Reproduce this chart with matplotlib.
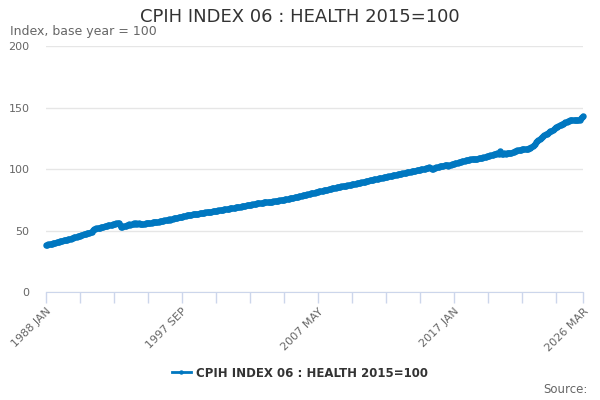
import numpy as np
import matplotlib
matplotlib.use('Agg')
import matplotlib.pyplot as plt

# monthly index values, 1988 JAN .. 2026 MAR (one row per year)
health_index = [
    38.6, 38.8, 39.0, 39.2, 39.4, 39.7, 39.9, 40.1, 40.4, 40.6, 40.9, 41.1,  # 1988
    41.4, 41.6, 41.9, 42.2, 42.4, 42.7, 43.0, 43.2, 43.5, 43.8, 44.0, 44.3,  # 1989
    44.7, 45.0, 45.3, 45.6, 45.9, 46.2, 46.5, 46.8, 47.1, 47.4, 47.7, 48.0,  # 1990
    48.4, 48.6, 48.9, 49.3, 50.8, 51.5, 51.8, 52.0, 52.2, 52.4, 52.6, 52.8,  # 1991
    53.2, 53.5, 53.7, 54.0, 54.3, 54.5, 54.8, 55.0, 55.2, 55.5, 55.7, 55.9,  # 1992
    56.2, 56.3, 56.4, 55.1, 53.2, 53.4, 53.9, 54.3, 53.8, 55.2, 54.6, 55.6,  # 1993
    54.9, 55.8, 55.3, 56.1, 55.5, 56.3, 55.8, 56.2, 55.9, 55.4, 55.7, 56.0,  # 1994
    55.8, 56.2, 56.4, 56.1, 56.6, 56.8, 56.5, 56.9, 57.1, 57.0, 57.3, 57.4,  # 1995
    57.5, 57.7, 57.9, 58.3, 58.1, 58.5, 58.8, 58.6, 59.0, 59.3, 59.1, 59.5,  # 1996
    59.9, 60.4, 60.1, 60.8, 60.6, 61.0, 61.4, 61.2, 61.7, 61.9, 62.1, 62.4,  # 1997
    62.7, 62.8, 63.0, 63.1, 63.2, 63.4, 63.5, 63.6, 63.8, 63.9, 64.0, 64.2,  # 1998
    64.5, 64.6, 64.8, 64.9, 65.0, 65.2, 65.3, 65.5, 65.6, 65.7, 65.9, 66.0,  # 1999
    66.2, 66.3, 66.5, 66.6, 66.8, 66.9, 67.1, 67.2, 67.4, 67.5, 67.7, 67.9,  # 2000
    68.1, 68.3, 68.4, 68.6, 68.8, 68.9, 69.1, 69.3, 69.5, 69.6, 69.8, 70.0,  # 2001
    70.2, 70.4, 70.6, 70.7, 70.9, 71.1, 71.3, 71.4, 71.6, 71.8, 71.9, 72.1,  # 2002
    72.3, 72.4, 72.6, 72.7, 72.8, 73.0, 73.1, 73.2, 73.4, 73.5, 73.6, 73.8,  # 2003
    73.7, 73.9, 74.0, 74.2, 74.3, 74.5, 74.6, 74.8, 74.9, 75.1, 75.2, 75.4,  # 2004
    75.6, 75.8, 76.0, 76.2, 76.4, 76.6, 76.8, 77.0, 77.2, 77.4, 77.6, 77.8,  # 2005
    78.1, 78.3, 78.6, 78.8, 79.1, 79.3, 79.5, 79.8, 80.0, 80.2, 80.5, 80.7,  # 2006
    81.0, 81.2, 81.5, 81.7, 81.9, 82.1, 82.3, 82.5, 82.7, 82.9, 83.1, 83.3,  # 2007
    83.6, 83.8, 84.0, 84.3, 84.5, 84.7, 84.9, 85.1, 85.3, 85.5, 85.7, 85.9,  # 2008
    86.1, 86.3, 86.5, 86.7, 86.9, 87.1, 87.2, 87.4, 87.6, 87.8, 88.0, 88.2,  # 2009
    88.4, 88.6, 88.8, 89.0, 89.2, 89.4, 89.6, 89.9, 90.1, 90.3, 90.5, 90.7,  # 2010
    91.0, 91.2, 91.4, 91.6, 91.8, 92.0, 92.3, 92.5, 92.7, 92.9, 93.1, 93.3,  # 2011
    93.5, 93.7, 93.9, 94.1, 94.3, 94.5, 94.7, 94.9, 95.1, 95.3, 95.5, 95.7,  # 2012
    95.9, 96.1, 96.3, 96.5, 96.7, 97.0, 97.2, 97.4, 97.6, 97.8, 98.0, 98.2,  # 2013
    98.4, 98.6, 98.8, 99.0, 99.2, 99.4, 99.6, 99.8, 100.0, 100.2, 100.5, 100.7,  # 2014
    100.9, 101.1, 101.4, 101.7, 101.2, 100.4, 100.3, 100.8, 101.3, 101.6, 101.9, 102.1,  # 2015
    102.4, 102.6, 102.8, 103.0, 103.3, 103.6, 103.2, 103.0, 103.5, 103.8, 104.1, 104.3,  # 2016
    104.6, 104.9, 105.2, 105.5, 105.8, 106.1, 106.3, 106.6, 106.9, 107.1, 107.4, 107.6,  # 2017
    107.8, 108.0, 108.1, 108.3, 108.4, 108.5, 108.6, 108.7, 108.8, 109.0, 109.1, 109.3,  # 2018
    109.6, 109.8, 110.1, 110.4, 110.6, 110.9, 111.2, 111.4, 111.7, 112.0, 112.3, 112.5,  # 2019
    112.8, 113.1, 112.4, 114.6, 113.0, 112.7, 112.9, 113.1, 112.8, 113.0, 113.2, 113.3,  # 2020
    113.2, 113.6, 114.0, 114.4, 114.8, 115.2, 115.5, 115.9, 116.1, 116.0, 116.2, 116.4,  # 2021
    116.5, 116.6, 116.8, 116.9, 117.1, 117.3, 117.9, 118.8, 119.8, 121.0, 122.2, 123.2,  # 2022
    124.0, 124.8, 125.6, 126.3, 127.0, 127.7, 128.4, 129.0, 129.7, 130.4, 131.0, 131.6,  # 2023
    132.4, 133.0, 133.6, 134.2, 134.8, 135.3, 135.8, 136.3, 136.8, 137.3, 137.8, 138.3,  # 2024
    138.7, 139.1, 139.5, 139.9, 140.2, 140.4, 140.1, 140.3, 139.9, 140.2, 140.0, 140.4,  # 2025
    141.8, 142.6, 143.8,  # 2026
]

tick_pos = [0, 29, 58, 87, 116, 145, 174, 203, 232, 261, 290, 319, 348, 377, 406, 435, 458]
label_pos = [0, 116, 232, 348, 458]
label_txt = ['1988 JAN', '1997 SEP', '2007 MAY', '2017 JAN', '2026 MAR']
y_ticks = [0, 50, 100, 150, 200]

blue = '#0077c0'
grey = '#666666'
axis_col = '#ccd6eb'

fig = plt.figure(figsize=(6, 4), dpi=100)
ax = fig.add_axes([0.0767, 0.269, 0.895, 0.615])

months = np.arange(len(health_index))
ax.plot(months, health_index, color=blue, lw=2, marker='o', ms=3.6,
        mec=blue, mfc=blue, zorder=3, clip_on=False)

ax.set_xlim(0, 458)
ax.set_ylim(0, 200)
ax.set_yticks(y_ticks)
ax.yaxis.grid(True, color='#e6e6e6', lw=1)
ax.set_axisbelow(True)
ax.tick_params(axis='y', length=0, pad=12, labelsize=8, labelcolor=grey)

ax.set_xticks(tick_pos)
ax.set_xticklabels([label_txt[label_pos.index(p)] if p in label_pos else '' for p in tick_pos])
ax.tick_params(axis='x', length=8, width=1, color=axis_col, labelsize=8, labelcolor=grey, pad=2)
plt.setp(ax.get_xticklabels(), rotation=45, ha='right', rotation_mode='anchor')

for s in ['top', 'right', 'left']:
    ax.spines[s].set_visible(False)
ax.spines['bottom'].set_color(axis_col)

fig.text(0.5, 0.958, 'CPIH INDEX 06 : HEALTH 2015=100', ha='center', va='center',
         fontsize=13, color='#333333')
fig.text(0.017, 0.92, 'Index, base year = 100', ha='left', va='center',
         fontsize=9, color=grey)

leg = fig.legend(handles=ax.lines, labels=['CPIH INDEX 06 : HEALTH 2015=100'],
                 loc='center', bbox_to_anchor=(0.5, 0.067), frameon=False,
                 handlelength=1.4, handletextpad=0.4, markerscale=0.6)
for t in leg.get_texts():
    t.set_fontweight('bold')
    t.set_fontsize(8.5)
    t.set_color('#333333')

fig.text(0.98, 0.027, 'Source:', ha='right', va='center', fontsize=8.5, color=grey)

fig.savefig('out.png', dpi=100)
